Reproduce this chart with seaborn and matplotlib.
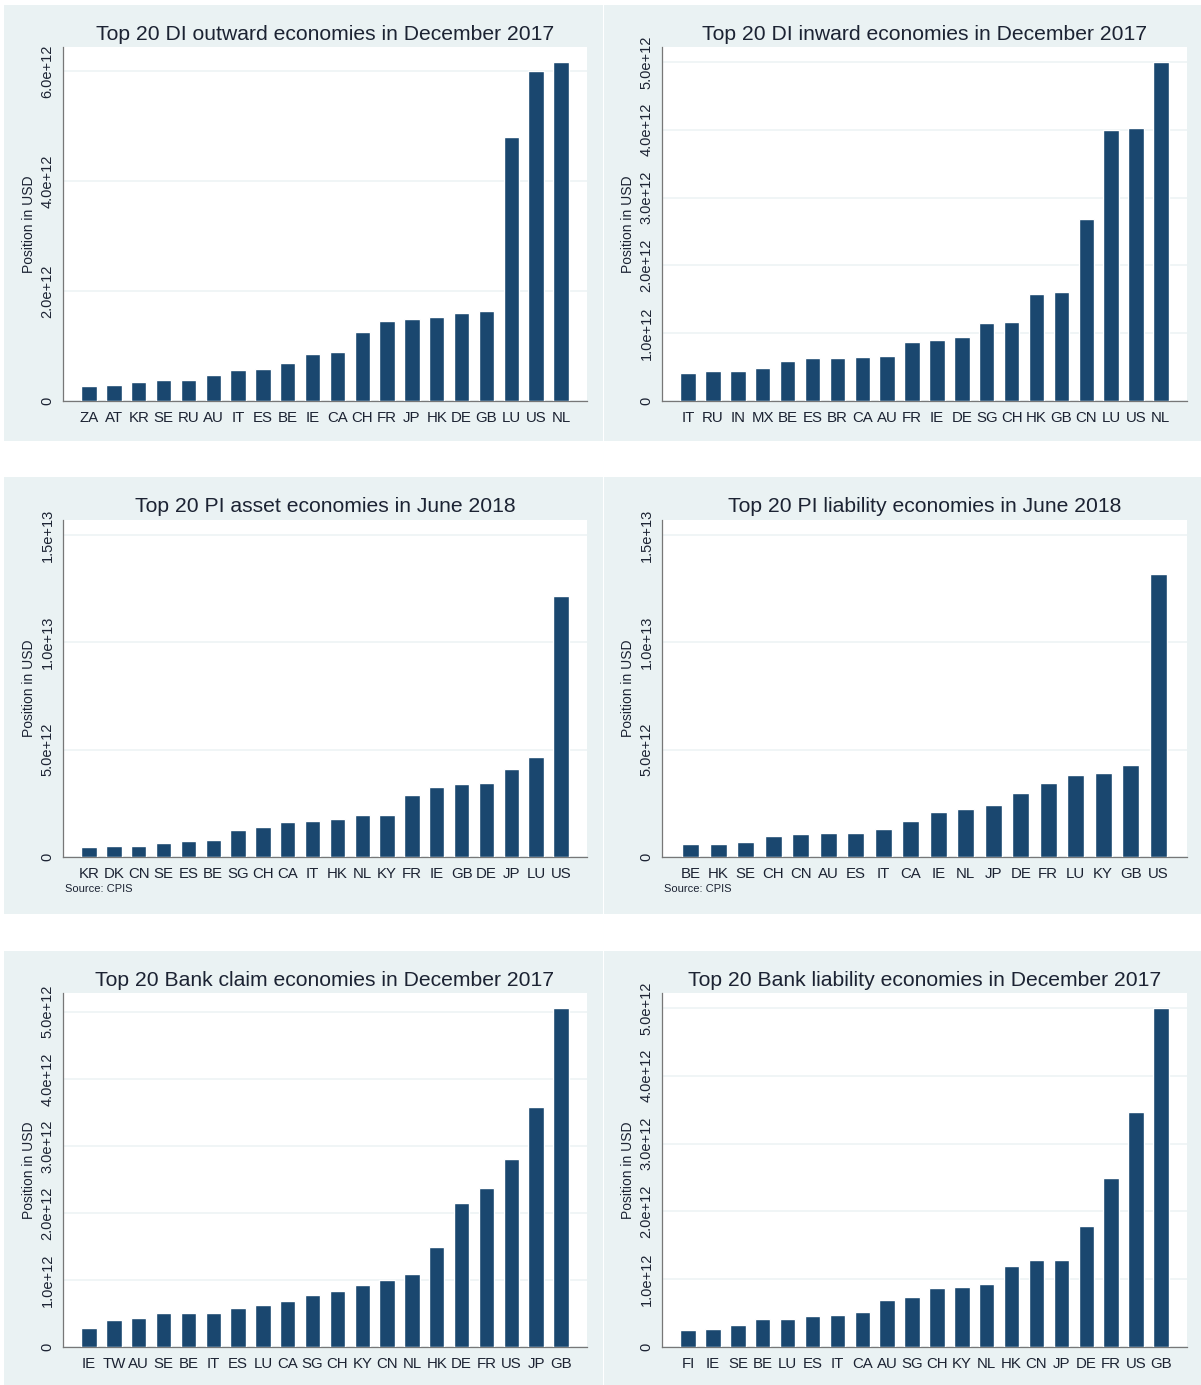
import pandas as pd
import seaborn as sns
import matplotlib.pyplot as plt
from matplotlib.patches import Rectangle

# Valores em trilhoes de USD (1e12)
di_out_countries = ['ZA', 'AT', 'KR', 'SE', 'RU', 'AU', 'IT', 'ES', 'BE', 'IE',
                    'CA', 'CH', 'FR', 'JP', 'HK', 'DE', 'GB', 'LU', 'US', 'NL']
di_out_values = [0.28, 0.29, 0.34, 0.38, 0.38, 0.47, 0.565, 0.58, 0.69, 0.86,
                 0.89, 1.26, 1.45, 1.49, 1.52, 1.61, 1.63, 4.81, 6.01, 6.17]

di_in_countries = ['IT', 'RU', 'IN', 'MX', 'BE', 'ES', 'BR', 'CA', 'AU', 'FR',
                   'IE', 'DE', 'SG', 'CH', 'HK', 'GB', 'CN', 'LU', 'US', 'NL']
di_in_values = [0.42, 0.44, 0.44, 0.49, 0.585, 0.635, 0.635, 0.655, 0.665, 0.875,
                0.895, 0.95, 1.15, 1.16, 1.585, 1.605, 2.69, 3.99, 4.03, 5.005]

pi_asset_countries = ['KR', 'DK', 'CN', 'SE', 'ES', 'BE', 'SG', 'CH', 'CA', 'IT',
                      'HK', 'NL', 'KY', 'FR', 'IE', 'GB', 'DE', 'JP', 'LU', 'US']
pi_asset_values = [0.45, 0.50, 0.53, 0.64, 0.76, 0.81, 1.24, 1.38, 1.61, 1.66,
                   1.75, 1.96, 1.96, 2.89, 3.26, 3.42, 3.46, 4.11, 4.67, 12.16]

pi_liab_countries = ['BE', 'HK', 'SE', 'CH', 'CN', 'AU', 'ES', 'IT', 'CA', 'IE',
                     'NL', 'JP', 'DE', 'FR', 'LU', 'KY', 'GB', 'US']
pi_liab_values = [0.62, 0.62, 0.68, 0.99, 1.07, 1.12, 1.13, 1.32, 1.69, 2.08,
                  2.24, 2.42, 2.97, 3.46, 3.80, 3.93, 4.30, 13.18]

bank_claim_countries = ['IE', 'TW', 'AU', 'SE', 'BE', 'IT', 'ES', 'LU', 'CA', 'SG',
                        'CH', 'KY', 'CN', 'NL', 'HK', 'DE', 'FR', 'US', 'JP', 'GB']
bank_claim_values = [0.29, 0.40, 0.43, 0.50, 0.51, 0.51, 0.58, 0.63, 0.685, 0.775,
                     0.83, 0.92, 1.0, 1.09, 1.49, 2.145, 2.375, 2.81, 3.585, 5.06]

bank_liab_countries = ['FI', 'IE', 'SE', 'BE', 'LU', 'ES', 'IT', 'CA', 'AU', 'SG',
                       'CH', 'KY', 'NL', 'HK', 'CN', 'JP', 'DE', 'FR', 'US', 'GB']
bank_liab_values = [0.245, 0.27, 0.32, 0.42, 0.42, 0.45, 0.465, 0.52, 0.69, 0.74,
                    0.865, 0.88, 0.93, 1.19, 1.28, 1.29, 1.78, 2.49, 3.46, 5.0]

titles = ['Top 20 DI outward economies in December 2017',
          'Top 20 DI inward economies in December 2017',
          'Top 20 PI asset economies in June 2018',
          'Top 20 PI liability economies in June 2018',
          'Top 20 Bank claim economies in December 2017',
          'Top 20 Bank liability economies in December 2017']

sns.set_style('white')
plt.rcParams['font.family'] = ['Liberation Sans', 'DejaVu Sans']

W, H = 1201, 1385
fig = plt.figure(figsize=(W / 100, H / 100), dpi=100)

NAVY = '#1a476f'
BG = '#eaf2f3'
TXT = '#1c2333'


def frac(x0, y0, x1, y1):
    # pixels (origem no topo) -> fracao da figura
    return [x0 / W, 1 - y1 / H, (x1 - x0) / W, (y1 - y0) / H]


def fmt(v):
    return '0' if v == 0 else '%.1e' % v


paineis = [
    (di_out_countries, di_out_values, [0, 2, 4, 6], 6.44, (4, 5, 603, 441), (63, 47, 587, 401), False),
    (di_in_countries, di_in_values, [0, 1, 2, 3, 4, 5], 5.22, (604, 5, 1201, 441), (662, 47, 1187, 401), False),
    (pi_asset_countries, pi_asset_values, [0, 5, 10, 15], 15.7, (4, 477, 603, 914), (63, 520, 587, 857), True),
    (pi_liab_countries, pi_liab_values, [0, 5, 10, 15], 15.7, (604, 477, 1201, 914), (662, 520, 1187, 857), True),
    (bank_claim_countries, bank_claim_values, [0, 1, 2, 3, 4, 5], 5.28, (4, 951, 603, 1385), (63, 993, 587, 1347), False),
    (bank_liab_countries, bank_liab_values, [0, 1, 2, 3, 4, 5], 5.22, (604, 951, 1201, 1385), (662, 993, 1187, 1347), False),
]

for i, (paises, valores, ticks, ymax, bg, area, fonte) in enumerate(paineis):
    # fundo do painel (estilo Stata)
    fig.patches.append(Rectangle((bg[0] / W, 1 - bg[3] / H), (bg[2] - bg[0]) / W, (bg[3] - bg[1]) / H,
                                 transform=fig.transFigure, facecolor=BG, edgecolor='none', zorder=-5))

    ax = fig.add_axes(frac(*area))
    ax.set_zorder(2)
    ax.set_facecolor('white')
    dados = pd.DataFrame({'pais': paises, 'valor': [v * 1e12 for v in valores]})
    sns.barplot(data=dados, x='pais', y='valor', color=NAVY, saturation=1,
                width=0.62, ax=ax, zorder=3)

    n = len(paises)
    ax.set_xlim(-1.05, n + 0.05)
    ax.set_ylim(0, ymax * 1e12)
    yt = [t * 1e12 for t in ticks]
    ax.set_yticks(yt, labels=[fmt(t) for t in yt], rotation=90, va='center', fontsize=10.5, color=TXT)
    ax.tick_params(axis='y', length=4, width=0.8, color='#777777', pad=2)
    ax.tick_params(axis='x', length=0, pad=7, labelsize=10.8, labelcolor=TXT)
    ax.yaxis.grid(True, color='#eef4f5', lw=1.2)
    ax.set_axisbelow(True)
    ax.set_xlabel('')
    ax.set_ylabel('')
    for s in ['top', 'right']:
        ax.spines[s].set_visible(False)
    for s in ['left', 'bottom']:
        ax.spines[s].set_color('#777777')
        ax.spines[s].set_linewidth(0.9)

    cx = (area[0] + area[2]) / 2
    fig.text(cx / W, 1 - (area[1] - 13) / H, titles[i], ha='center', va='center',
             fontsize=15.2, color=TXT)
    fig.text((area[0] - 34) / W, 1 - ((area[1] + area[3]) / 2) / H, 'Position in USD',
             rotation=90, ha='center', va='center', fontsize=10, color=TXT)
    if fonte:
        fig.text((area[0] + 2) / W, 1 - (area[3] + 32) / H, 'Source: CPIS',
                 ha='left', va='center', fontsize=8, color=TXT)

plt.savefig('out.png', dpi=100, facecolor='white')
